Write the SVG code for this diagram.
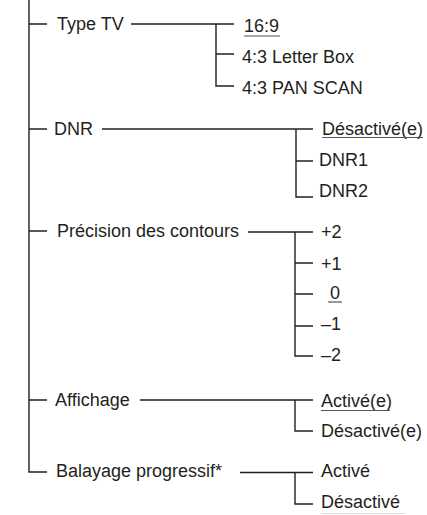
<svg xmlns="http://www.w3.org/2000/svg" width="427" height="515" viewBox="0 0 427 515">
<style>
.t{font-family:"Liberation Sans",Arial,sans-serif;font-size:18px;fill:#231f20}
.l{stroke:#231f20;stroke-width:1.4;fill:none}
.u{stroke:#555;stroke-width:1.2;fill:none}
</style>
<rect width="427" height="515" fill="#fff"/>
<g id="connectors">
<path class="l" d="M29 0V472H47M29 24H47M29 129H47M29 231H47M29 400H47"/>
<path class="l" d="M131 24H234M216 24V86H234M216 54H234"/>
<path class="l" d="M102 129H313M296 129V197H313M296 161H313"/>
<path class="l" d="M248 232H313M295 232V356H313M295 263H313M295 294H313M295 326H313"/>
<path class="l" d="M140 400H313M295 400V431H313"/>
<path class="l" d="M240 472.5H313M295 472.5V504H313"/>
</g>
<g id="typetv">
<text class="t" x="57" y="30">Type TV</text>
<text class="t" x="244" y="32">16:9</text>
<path class="u" d="M244 36H280"/>
<text class="t" x="242" y="62.5">4:3 Letter Box</text>
<text class="t" x="242" y="94">4:3 PAN SCAN</text>
</g>
<g id="dnr">
<text class="t" x="54" y="135">DNR</text>
<text class="t" x="322" y="135">Désactivé(e)</text>
<path class="u" d="M322 137.5H423"/>
<text class="t" x="319" y="166">DNR1</text>
<text class="t" x="319" y="197">DNR2</text>
</g>
<g id="precision">
<text class="t" x="57" y="237">Précision des contours</text>
<text class="t" x="321" y="238">+2</text>
<text class="t" x="321" y="270">+1</text>
<text class="t" x="330" y="299">0</text>
<path class="u" d="M328 302H342"/>
<text class="t" x="321" y="330">–1</text>
<text class="t" x="321" y="361">–2</text>
</g>
<g id="affichage">
<text class="t" x="55" y="406">Affichage</text>
<text class="t" x="321" y="406.5">Activé(e)</text>
<path class="u" d="M321 410.5H390"/>
<text class="t" x="321" y="437">Désactivé(e)</text>
</g>
<g id="balayage">
<text class="t" x="56" y="477">Balayage progressif*</text>
<text class="t" x="321" y="477">Activé</text>
<text class="t" x="321" y="507.5">Désactivé</text>
<path d="M321 513.5H405" stroke="#ddd" stroke-width="1"/>
</g>
</svg>
